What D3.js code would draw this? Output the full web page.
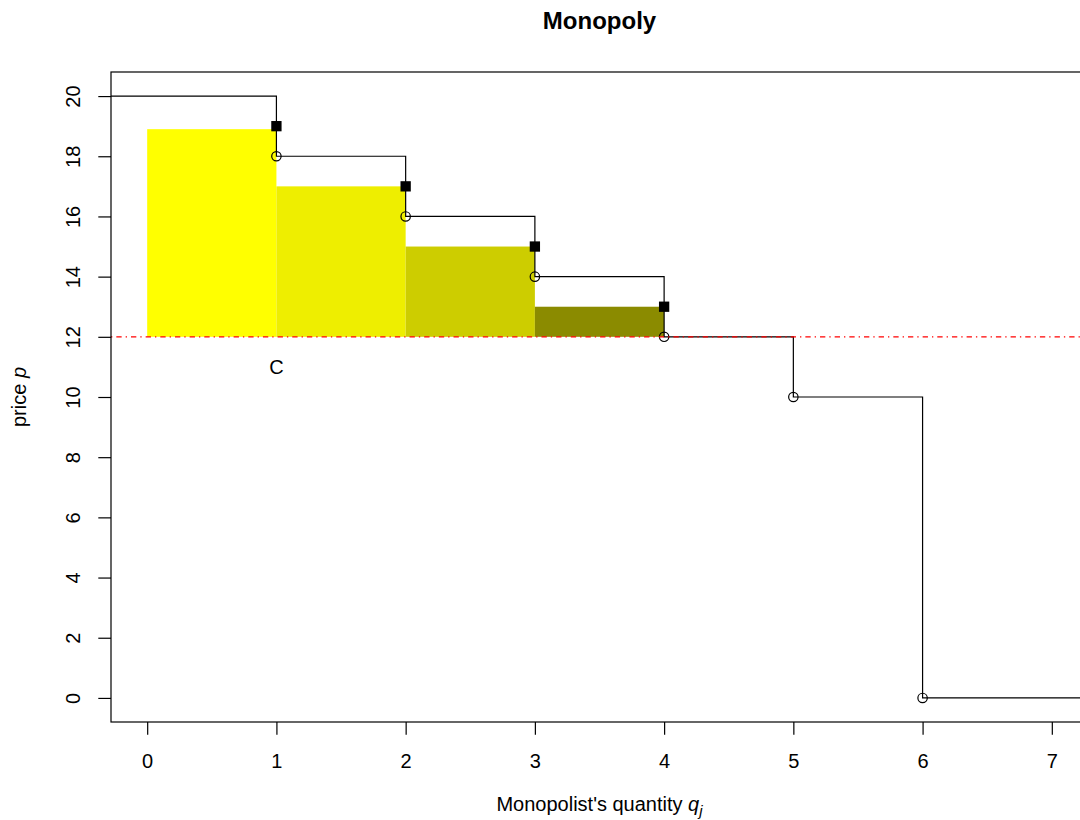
<!DOCTYPE html>
<html>
<head>
<meta charset="utf-8">
<script src="https://cdn.jsdelivr.net/npm/d3@7"></script>
<style>
body { margin: 0; background: #fff; }
text { font-family: "Liberation Sans", Arial, sans-serif; }
</style>
</head>
<body>
<div id="monopoly_plot"></div>
<script>
// data
const stepBreaks = [1, 2, 3, 4, 5, 6];            // quantities where the demand steps down
const stepPrices = [20, 18, 16, 14, 12, 10, 0];   // price before first break, then after each break
const mrQty = [1, 2, 3, 4];                       // filled squares
const mrPrice = [19, 17, 15, 13];
const barLeft = [0, 1, 2, 3];
const barRight = [1, 2, 3, 4];
const barTop = [18.9, 17, 15, 13];
const barColors = ["#FFFF00", "#EEEE00", "#CDCD00", "#8B8B00"];
const marginalCost = 12;
const labelC = {q: 1, p: 11, text: "C"};
const xTicks = [0, 1, 2, 3, 4, 5, 6, 7];
const yTicks = [0, 2, 4, 6, 8, 10, 12, 14, 16, 18, 20];

// set the dimensions of the page and plot region
const W = 1080, H = 820;
const plot = {left: 111, right: 1088, top: 72, bottom: 722};

const svg = d3.select("#monopoly_plot")
  .append("svg")
  .attr("width", W)
  .attr("height", H);

// scales (R style 4% padding around 0..7 and 0..20)
const x = d3.scaleLinear().domain([-0.28, 7.28]).range([plot.left, plot.right]);
const y = d3.scaleLinear().domain([-0.8, 20.8]).range([plot.bottom, plot.top]);

svg.append("clipPath").attr("id", "plotclip")
  .append("rect")
  .attr("x", plot.left).attr("y", plot.top)
  .attr("width", plot.right - plot.left).attr("height", plot.bottom - plot.top);

const g = svg.append("g").attr("clip-path", "url(#plotclip)");

// yellow bars between the cost line and the price
g.selectAll("rect.bar")
  .data(barTop)
  .join("rect")
  .attr("class", "bar")
  .attr("x", (d, i) => x(barLeft[i]))
  .attr("width", (d, i) => x(barRight[i]) - x(barLeft[i]))
  .attr("y", d => y(d))
  .attr("height", d => y(marginalCost) - y(d))
  .attr("fill", (d, i) => barColors[i]);

// the demand step function
const stepPts = [[x.domain()[0], stepPrices[0]]]
  .concat(stepBreaks.map((q, i) => [q, stepPrices[i + 1]]))
  .concat([[x.domain()[1], stepPrices[stepPrices.length - 1]]]);

g.append("path")
  .datum(stepPts)
  .attr("fill", "none")
  .attr("stroke", "#000")
  .attr("stroke-width", 1.2)
  .attr("d", d3.line()
    .curve(d3.curveStepAfter)
    .x(d => x(d[0]))
    .y(d => y(d[1])));

// open circles at the start of each step
g.selectAll("circle.pt")
  .data(stepBreaks)
  .join("circle")
  .attr("class", "pt")
  .attr("cx", d => x(d))
  .attr("cy", (d, i) => y(stepPrices[i + 1]))
  .attr("r", 4.7)
  .attr("fill", "none")
  .attr("stroke", "#000")
  .attr("stroke-width", 1.2);

// filled squares
const sq = 10.3;
g.selectAll("rect.sq")
  .data(mrQty)
  .join("rect")
  .attr("class", "sq")
  .attr("x", d => x(d) - sq / 2)
  .attr("y", (d, i) => y(mrPrice[i]) - sq / 2)
  .attr("width", sq)
  .attr("height", sq)
  .attr("fill", "#000");

// marginal cost line (dot-dash)
g.append("line")
  .attr("x1", plot.left).attr("x2", plot.right)
  .attr("y1", y(marginalCost)).attr("y2", y(marginalCost))
  .attr("stroke", "#FF0000")
  .attr("stroke-width", 1.2)
  .attr("stroke-dasharray", "1.33,4,5.33,4");

svg.append("text")
  .attr("x", x(labelC.q))
  .attr("y", y(labelC.p) + 7.3)
  .attr("text-anchor", "middle")
  .attr("font-size", 20)
  .text(labelC.text);

// plot box
svg.append("rect")
  .attr("x", plot.left).attr("y", plot.top)
  .attr("width", plot.right - plot.left).attr("height", plot.bottom - plot.top)
  .attr("fill", "none")
  .attr("stroke", "#000")
  .attr("stroke-width", 1.2);

// X axis
svg.append("g")
  .attr("transform", `translate(0, ${plot.bottom})`)
  .call(d3.axisBottom(x).tickValues(xTicks).tickSize(12.7).tickPadding(0).tickFormat(d3.format("d")))
  .call(a => a.select(".domain").remove())
  .call(a => a.selectAll("line").attr("stroke-width", 1.2))
  .call(a => a.selectAll("text")
    .attr("font-size", 20)
    .attr("fill", "#000")
    .attr("y", 45.5)
    .attr("dy", null));

// Y axis, labels rotated like R
const yAx = svg.append("g")
  .attr("transform", `translate(${plot.left}, 0)`)
  .call(d3.axisLeft(y).tickValues(yTicks).tickSize(12.7).tickFormat(d3.format("d")))
  .call(a => a.select(".domain").remove())
  .call(a => a.selectAll("line").attr("stroke-width", 1.2));
yAx.selectAll("text")
  .attr("font-size", 20)
  .attr("fill", "#000")
  .attr("x", null).attr("dy", null)
  .attr("text-anchor", "middle")
  .attr("transform", `translate(${80 - plot.left}, 0) rotate(-90)`);

// title
svg.append("text")
  .attr("x", (plot.left + plot.right) / 2)
  .attr("y", 28.5)
  .attr("text-anchor", "middle")
  .attr("font-size", 24)
  .attr("font-weight", "bold")
  .text("Monopoly");

// X axis label
const xl = svg.append("text")
  .attr("x", (plot.left + plot.right) / 2)
  .attr("y", 811)
  .attr("text-anchor", "middle")
  .attr("font-size", 20);
xl.append("tspan").text("Monopolist's quantity ");
xl.append("tspan").attr("font-style", "italic").text("q");
xl.append("tspan").attr("font-style", "italic").attr("font-size", 15).attr("dy", 5).text("j");

// Y axis label
const yl = svg.append("text")
  .attr("transform", `translate(26, ${(plot.top + plot.bottom) / 2}) rotate(-90)`)
  .attr("text-anchor", "middle")
  .attr("font-size", 20);
yl.append("tspan").text("price ");
yl.append("tspan").attr("font-style", "italic").text("p");
</script>
</body>
</html>
